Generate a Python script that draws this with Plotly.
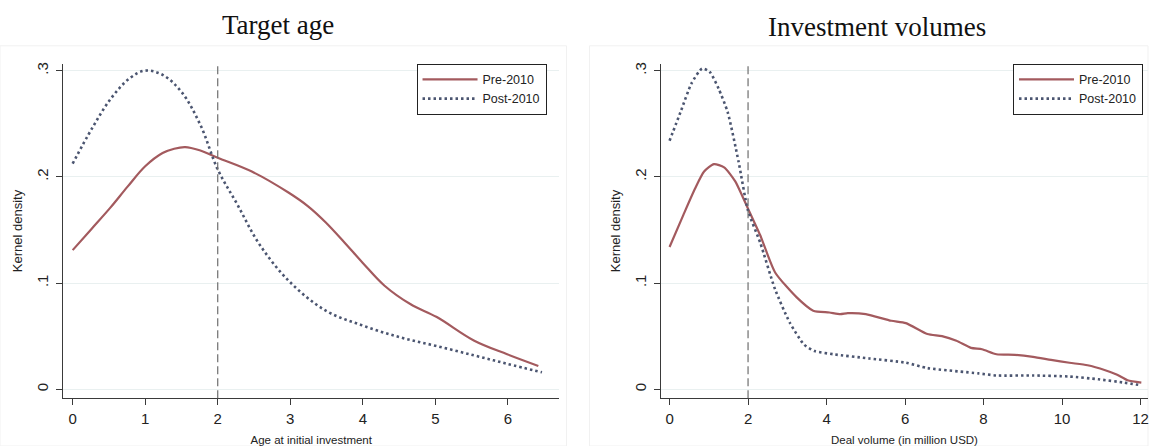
import plotly.graph_objects as go

# ---------------- Data ----------------
# Target age panel
age_pre_x = [0.0, 0.26, 0.52, 0.76, 1.0, 1.24, 1.4, 1.55, 1.75, 2.0, 2.47, 2.98, 3.25, 3.49, 3.75, 4.0, 4.3, 4.66, 5.02, 5.53, 5.99, 6.42]
age_pre_y = [0.131, 0.151, 0.171, 0.191, 0.210, 0.2225, 0.2265, 0.228, 0.225, 0.218, 0.205, 0.185, 0.172, 0.157, 0.138, 0.119, 0.0975, 0.080, 0.068, 0.046, 0.033, 0.022]
age_post_x = [0.0, 0.27, 0.53, 0.79, 1.0, 1.24, 1.5, 1.76, 2.0, 2.27, 2.57, 2.98, 3.49, 4.0, 4.51, 5.0, 5.53, 5.99, 6.47]
age_post_y = [0.2125, 0.246, 0.274, 0.293, 0.300, 0.296, 0.280, 0.249, 0.207, 0.174, 0.137, 0.102, 0.074, 0.060, 0.049, 0.041, 0.032, 0.024, 0.016]

# Investment volumes panel
vol_pre_x = [0.0, 0.35, 0.65, 0.88, 1.13, 1.39, 1.67, 2.0, 2.31, 2.69, 3.24, 3.66, 4.07, 4.35, 4.54, 5.0, 5.65, 6.02, 6.57, 6.94, 7.31, 7.68, 7.96, 8.33, 8.8, 9.26, 9.72, 10.19, 10.65, 11.1, 11.39, 11.67, 12.02]
vol_pre_y = [0.134, 0.164, 0.189, 0.205, 0.212, 0.209, 0.196, 0.170, 0.145, 0.110, 0.0865, 0.074, 0.0723, 0.0708, 0.0717, 0.0708, 0.0645, 0.0623, 0.052, 0.050, 0.0456, 0.039, 0.0377, 0.033, 0.0324, 0.0305, 0.0277, 0.025, 0.0226, 0.018, 0.014, 0.0085, 0.0063]
vol_post_x = [0.0, 0.28, 0.56, 0.83, 1.02, 1.25, 1.48, 1.76, 2.0, 2.31, 2.69, 3.06, 3.43, 3.7, 4.17, 5.09, 6.02, 6.57, 7.87, 8.33, 9.26, 10.19, 10.93, 11.57, 12.02]
vol_post_y = [0.234, 0.261, 0.288, 0.302, 0.299, 0.283, 0.261, 0.214, 0.168, 0.138, 0.094, 0.063, 0.042, 0.036, 0.033, 0.029, 0.025, 0.020, 0.015, 0.013, 0.013, 0.012, 0.0094, 0.0063, 0.0038]

y_tickvals = [0, 0.1, 0.2, 0.3]
y_ticktext = ["0", ".1", ".2", ".3"]
age_xticks = [0, 1, 2, 3, 4, 5, 6]
vol_xticks = [0, 2, 4, 6, 8, 10, 12]
cutoff = 2

PRE_COLOR = "#a35a5e"
POST_COLOR = "#4b5570"
W, H = 1149, 446
SANS = "Liberation Sans, Arial"

fig = go.Figure()

fig.add_trace(go.Scatter(x=age_pre_x, y=age_pre_y, mode="lines", name="Pre-2010",
                         line=dict(color=PRE_COLOR, width=2.2, shape="spline"),
                         xaxis="x", yaxis="y", legend="legend"))
fig.add_trace(go.Scatter(x=age_post_x, y=age_post_y, mode="lines", name="Post-2010",
                         line=dict(color=POST_COLOR, width=2.6, dash="2.5px,3px", shape="spline"),
                         xaxis="x", yaxis="y", legend="legend"))
fig.add_trace(go.Scatter(x=vol_pre_x, y=vol_pre_y, mode="lines", name="Pre-2010",
                         line=dict(color=PRE_COLOR, width=2.2, shape="spline", smoothing=0.6),
                         xaxis="x2", yaxis="y2", legend="legend2"))
fig.add_trace(go.Scatter(x=vol_post_x, y=vol_post_y, mode="lines", name="Post-2010",
                         line=dict(color=POST_COLOR, width=2.6, dash="2.5px,3px", shape="spline", smoothing=0.6),
                         xaxis="x2", yaxis="y2", legend="legend2"))

ydom = [1 - 398 / H, 1 - 62 / H]
axis_common = dict(showline=True, linecolor="#3a3a3a", linewidth=1.2, ticks="outside",
                   ticklen=6, tickcolor="#3a3a3a", tickfont=dict(family=SANS, size=15, color="#222"),
                   zeroline=False, ticklabeloverflow="allow")
xtitle_font = dict(family=SANS, size=11.5, color="#222")
ytitle_font = dict(family=SANS, size=13, color="#222")

legend_common = dict(yanchor="top", y=1 - 62 / H, xanchor="right",
                     bordercolor="#222", borderwidth=1, bgcolor="white",
                     font=dict(family=SANS, size=12.5, color="#222"),
                     tracegroupgap=0, itemwidth=55)

fig.update_layout(
    width=W, height=H, margin=dict(l=0, r=0, t=0, b=0),
    paper_bgcolor="white", plot_bgcolor="white",
    xaxis=dict(domain=[63.5 / W, 559.5 / W], range=[-0.127, 6.705], tickvals=age_xticks,
               showgrid=False, anchor="y", ticklabelstandoff=1,
               title=dict(text="Age at initial investment", font=xtitle_font, standoff=10),
               **axis_common),
    yaxis=dict(domain=ydom, range=[-0.0084, 0.3065], tickvals=y_tickvals, ticktext=y_ticktext,
               tickangle=-90, showgrid=True, gridcolor="#e9f0f0", gridwidth=1, anchor="x",
               ticklabelstandoff=2,
               title=dict(text="Kernel density", font=ytitle_font, standoff=8),
               **axis_common),
    xaxis2=dict(domain=[661.5 / W, 1.0], range=[-0.22, 12.19], tickvals=vol_xticks,
                showgrid=False, anchor="y2", ticklabelstandoff=1,
                title=dict(text="Deal volume (in million USD)", font=xtitle_font, standoff=10),
                **axis_common),
    yaxis2=dict(domain=ydom, range=[-0.0084, 0.3065], tickvals=y_tickvals, ticktext=y_ticktext,
                tickangle=-90, showgrid=True, gridcolor="#e9f0f0", gridwidth=1, anchor="x2",
                ticklabelstandoff=2,
                title=dict(text="Kernel density", font=ytitle_font, standoff=8),
                **axis_common),
    legend=dict(x=547 / W, **legend_common),
    legend2=dict(x=1144 / W, **legend_common),
    annotations=[
        dict(text="Target age", x=278 / W, y=1 - 23 / H, xref="paper", yref="paper",
             xanchor="center", yanchor="middle",
             showarrow=False, font=dict(family="Liberation Serif, serif", size=27, color="#111")),
        dict(text="Investment volumes", x=878 / W, y=1 - 25 / H, xref="paper", yref="paper",
             xanchor="center", yanchor="middle",
             showarrow=False, font=dict(family="Liberation Serif, serif", size=27, color="#111")),
    ],
    shapes=[
        dict(type="line", xref="x", yref="paper", x0=cutoff, x1=cutoff, y0=ydom[0], y1=ydom[1],
             line=dict(color="#6e6e6e", width=1.2, dash="8px,4px")),
        dict(type="line", xref="x2", yref="paper", x0=cutoff, x1=cutoff, y0=ydom[0], y1=ydom[1],
             line=dict(color="#6e6e6e", width=1.2, dash="8px,4px")),
        dict(type="rect", xref="paper", yref="paper", x0=0, x1=567 / W, y0=0, y1=1 - 44 / H,
             line=dict(color="#f1f1f1", width=1), layer="below"),
        dict(type="rect", xref="paper", yref="paper", x0=590 / W, x1=1.0, y0=0, y1=1 - 44 / H,
             line=dict(color="#f1f1f1", width=1), layer="below"),
    ],
    showlegend=True,
)

fig.write_html("out.html", config={"displayModeBar": False},
               post_script="document.body.style.margin='0';document.body.style.overflow='hidden';")
